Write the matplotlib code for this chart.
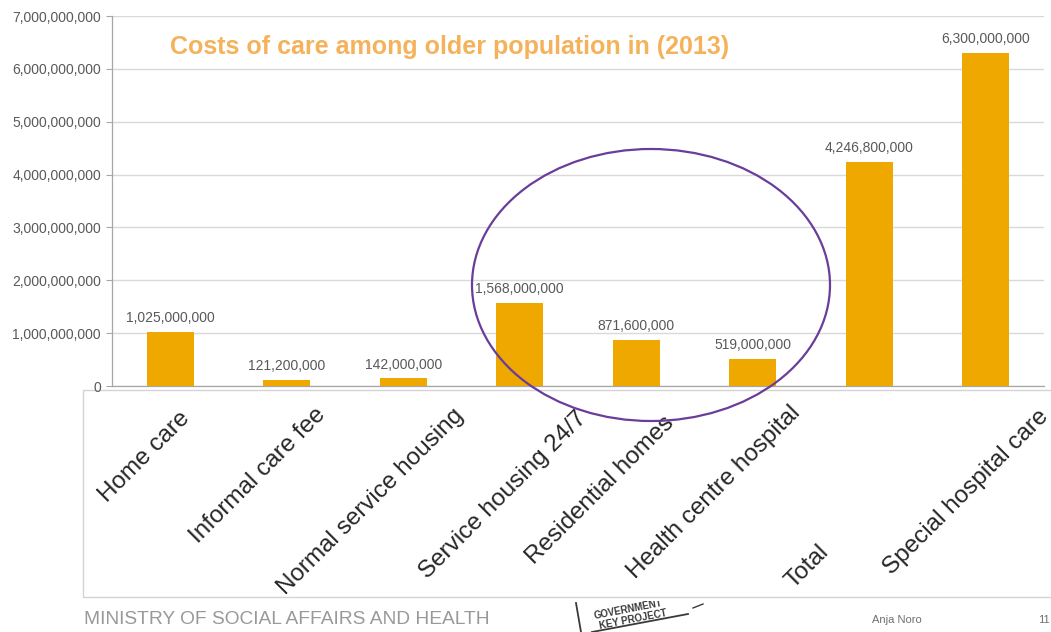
import matplotlib
matplotlib.use("Agg")
import matplotlib.pyplot as plt
import matplotlib.transforms as mtransforms
from matplotlib.patches import Rectangle, Ellipse
from matplotlib.lines import Line2D
from matplotlib.ticker import FuncFormatter, MultipleLocator

# ---- data -------------------------------------------------------------
categories = [
    "Home care",
    "Informal care fee",
    "Normal service housing",
    "Service housing 24/7",
    "Residential homes",
    "Health centre hospital",
    "Total",
    "Special hospital care",
]
costs = [1_025_000_000, 121_200_000, 142_000_000, 1_568_000_000,
         871_600_000, 519_000_000, 4_246_800_000, 6_300_000_000]
title_text = "Costs of care among older population in (2013)"
footer_text = "MINISTRY OF SOCIAL AFFAIRS AND HEALTH"
author_text = "Anja Noro"
page_text = "11"

# ---- layout -----------------------------------------------------------
W, H = 1051, 632
# hand-placed category labels: shift along x (category units), drop below axis (px)
label_shift = [0.07, 0.24, 0.42, 0.48, 0.23, 0.31, -0.44, 0.44]
label_drop = [21, 18, 18, 21, 26, 16, 155, 19]

BAR = "#EEA800"
GRID = "#D9D9D9"
AXIS = "#A6A6A6"
TXT = "#595959"
FONT = "Liberation Sans"

plt.rcParams["font.family"] = [FONT, "DejaVu Sans"]

fig = plt.figure(figsize=(W / 100, H / 100), dpi=100)
fig.patch.set_facecolor("white")


def fx(x):
    return x / W


def fy(y):
    return 1 - y / H


# label panel under the plot
panel = Rectangle((fx(83), fy(597)), fx(1060 - 83), fy(390) - fy(597),
                  transform=fig.transFigure, facecolor="white",
                  edgecolor="#D4D4D4", linewidth=1.0, zorder=-1)
fig.patches.append(panel)

ax = fig.add_axes([fx(112), fy(386), fx(1044 - 112), fy(16) - fy(386)])
ax.set_facecolor("none")
x = range(len(categories))
bars = ax.bar(x, costs, width=0.4, color=BAR, zorder=3)
ax.set_xlim(-0.5, len(categories) - 0.5)
ax.set_ylim(0, 7_000_000_000)
ax.yaxis.set_major_locator(MultipleLocator(1_000_000_000))
ax.yaxis.set_major_formatter(FuncFormatter(lambda v, p: f"{v:,.0f}"))
ax.grid(axis="y", color=GRID, linewidth=1.0, zorder=0)
for s in ["top", "right"]:
    ax.spines[s].set_visible(False)
ax.spines["left"].set_color(AXIS)
ax.spines["bottom"].set_color(AXIS)
ax.spines["left"].set_linewidth(0.9)
ax.spines["bottom"].set_linewidth(0.9)
ax.set_xticks([])
ax.tick_params(axis="y", length=4, width=0.8, color=AXIS, labelsize=10,
               labelcolor=TXT, pad=4)

# value labels
for rect, v in zip(bars, costs):
    ax.annotate(f"{v:,.0f}", (rect.get_x() + rect.get_width() / 2, v),
                xytext=(0, 7), textcoords="offset points",
                ha="center", va="baseline", fontsize=10, color=TXT)

# rotated category labels
base = mtransforms.blended_transform_factory(ax.transData, ax.transAxes)
for i, (lab, sh, dr) in enumerate(zip(categories, label_shift, label_drop)):
    tr = mtransforms.offset_copy(base, fig=fig, x=0, y=-dr, units="dots")
    ax.text(i + sh, 0, lab, transform=tr, rotation=45, rotation_mode="anchor",
            ha="right", va="top", fontsize=17.5, color="#262626",
            clip_on=False, zorder=5)

# title
fig.text(fx(170), fy(47), title_text, ha="left", va="center",
         fontsize=18, fontweight="bold", color="#F4B25A")

# highlight ring
ring = Ellipse((651 / 100, (H - 285) / 100), 3.58, 2.72,
               transform=fig.dpi_scale_trans, fill=False,
               edgecolor="#6A3D9A", linewidth=1.6, zorder=10)
fig.patches.append(ring)

# footer
fig.text(fx(84), fy(619), footer_text, ha="left", va="center",
         fontsize=13.8, color="#999999")
fig.text(fx(872), fy(620), author_text, ha="left", va="center",
         fontsize=8, color="#6E6E6E")
fig.text(fx(1038), fy(620), page_text, ha="left", va="center",
         fontsize=8, color="#6E6E6E")

# stamp
stamp_clip = Rectangle((fx(560), 0), fx(160), fy(601),
                       transform=fig.transFigure, visible=False)
fig.patches.append(stamp_clip)
stamp_items = [
    Line2D([fx(576), fx(581)], [fy(603), fy(632)], transform=fig.transFigure,
           color="#3A3A3A", linewidth=1.3),
    Line2D([fx(592), fx(688)], [fy(632), fy(614)], transform=fig.transFigure,
           color="#3A3A3A", linewidth=1.3),
    Line2D([fx(693), fx(703)], [fy(608), fy(604)], transform=fig.transFigure,
           color="#3A3A3A", linewidth=1.0),
]
for ln in stamp_items:
    ln.set_clip_path(stamp_clip)
    fig.lines.append(ln)
for txt, (sx, sy) in [("GOVERNMENT", (593, 609)), ("KEY PROJECT", (598, 620))]:
    t = fig.text(fx(sx), fy(sy), txt, ha="left", va="center", rotation=11,
                 fontsize=7, fontweight="bold", color="#3A3A3A")
    t.set_clip_path(stamp_clip)

fig.savefig("out.png", dpi=100, facecolor="white")
